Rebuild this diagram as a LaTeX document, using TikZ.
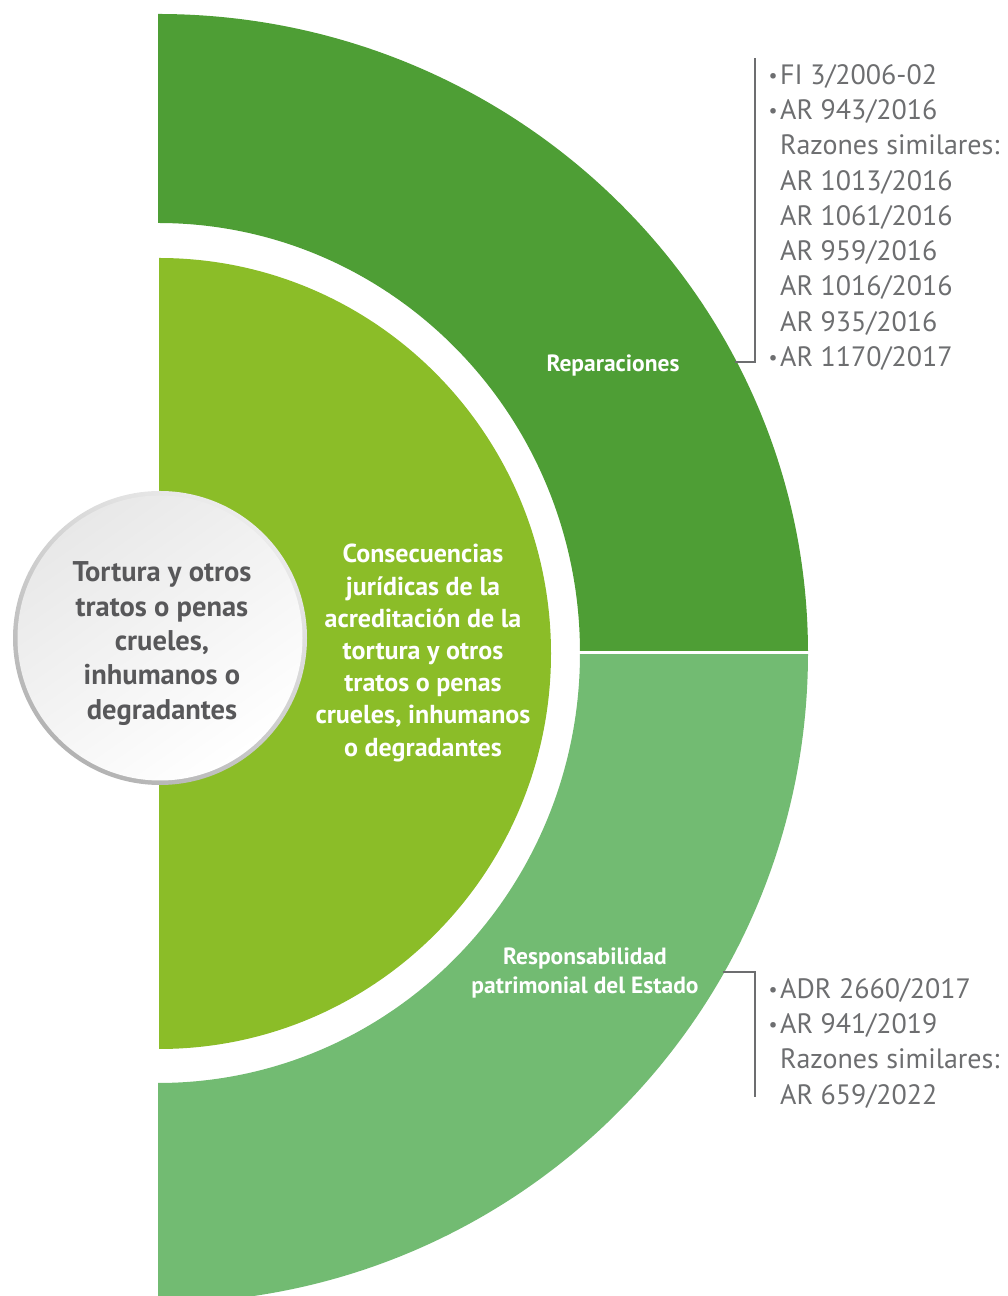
\documentclass[tikz,border=0pt]{standalone}
\usepackage{fontspec}
\setmainfont{PT Sans}
\definecolor{verdeosc}{HTML}{4E9E35}
\definecolor{verdelima}{HTML}{8BBD28}
\definecolor{verdeclaro}{HTML}{72BB72}
\definecolor{gristexto}{HTML}{58585A}
\definecolor{grislinea}{HTML}{6D6E70}
\tikzset{
  etiqueta/.style={text=white,font=\bfseries\fontsize{23.5}{29}\selectfont,align=center},
  centro/.style={text=white,font=\bfseries\fontsize{26}{32.2}\selectfont,align=center},
  circulo/.style={text=gristexto,font=\bfseries\fontsize{28.5}{34.3}\selectfont,align=center},
  lista/.style={text=grislinea,font=\fontsize{28}{35.3}\selectfont,align=left,anchor=north west,inner sep=0pt},
  corchete/.style={draw=grislinea,line width=2pt}
}
\newcommand{\vineta}{\makebox[14pt][c]{\raisebox{2pt}{\fontsize{20}{20}\selectfont •}}}
\newcommand{\sangria}{\hspace*{14pt}}
\begin{document}
\begin{tikzpicture}[x=1pt,y=1pt]
      \useasboundingbox (0,0) rectangle (1008,1296);
      \clip (0,0) rectangle (1008,1296);
      % bandas exteriores
      \fill[verdeosc] (158,1282) arc[start angle=90,end angle=0,x radius=650,y radius=639]
        -- (580,643) arc[start angle=0,end angle=90,x radius=422,y radius=430] -- cycle;
      \fill[verdeclaro] (808,643) arc[start angle=0,end angle=-90,x radius=650,y radius=650]
        -- (158,213) arc[start angle=-90,end angle=0,x radius=422,y radius=430] -- cycle;
      \draw[white,line width=3pt] (570,643.5) -- (820,643.5);
      % semicirculo central
      \fill[verdelima] (159,1038) arc[start angle=90,end angle=-90,x radius=392,y radius=395.5] -- cycle;
      % circulo
      \shade[top color=gray!15,bottom color=gray!60,shading angle=-35] (160,658) circle (147);
      \shade[top color=gray!18,bottom color=white,shading angle=35] (160,658) circle (142.5);
      \draw
        (162,652.5) node[circulo] (tortura) {Tortura y otros\\tratos o penas\\crueles,\\inhumanos o\\degradantes}
        (423,643) node[centro] (consec) {Consecuencias\\jurídicas de la\\acreditación de la\\tortura y otros\\tratos o penas\\crueles, inhumanos\\o degradantes}
        (613,930) node[etiqueta] (repar) {Reparaciones}
        (585,323) node[etiqueta] (respon) {Responsabilidad\\patrimonial del Estado}
        (766,1232) node[lista] (lista1) {\vineta FI 3/2006-02\\\vineta AR 943/2016\\\sangria Razones similares:\\\sangria AR 1013/2016\\\sangria AR 1061/2016\\\sangria AR 959/2016\\\sangria AR 1016/2016\\\sangria AR 935/2016\\\vineta AR 1170/2017}
        (766,318) node[lista] (lista2) {\vineta ADR 2660/2017\\\vineta AR 941/2019\\\sangria Razones similares:\\\sangria AR 659/2022};
      \coordinate (rep1) at (735,934);
      \coordinate (rep2) at (755,934);
      \coordinate (rep3) at (755,1238);
      \coordinate (res1) at (723,324);
      \coordinate (res2) at (755,324);
      \coordinate (res3) at (755,199);
      \begin{scope}[corchete]
        \draw (rep1) to (rep2) to (rep3);
        \draw (res1) to (res2) to (res3);
      \end{scope}
    \end{tikzpicture}
\end{document}
